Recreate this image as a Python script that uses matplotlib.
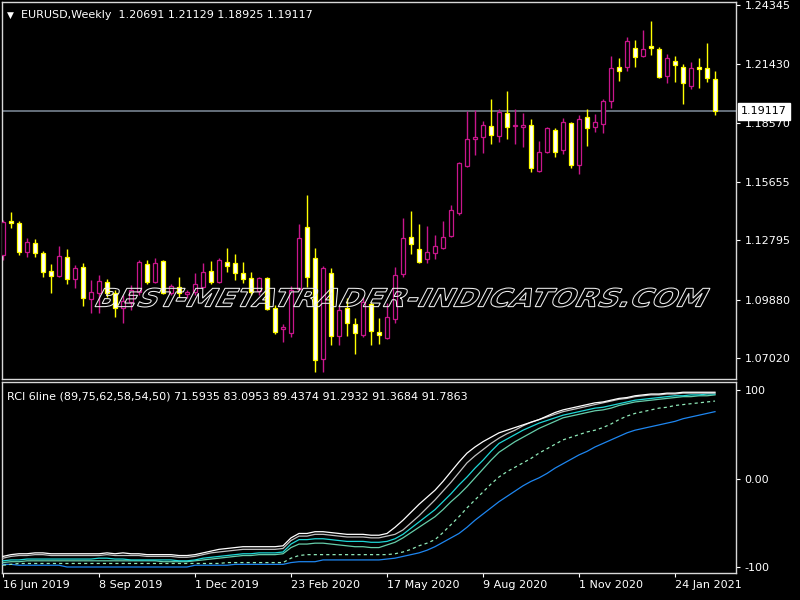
import numpy as np
import pandas as pd
import matplotlib
matplotlib.use("Agg")
import matplotlib.pyplot as plt
from matplotlib.patches import PathPatch
from matplotlib.textpath import TextPath
from matplotlib.font_manager import FontProperties
from matplotlib.transforms import Affine2D, blended_transform_factory

# ---------------- data ----------------
symbol_title = "EURUSD,Weekly  1.20691 1.21129 1.18925 1.19117"
ind_title = "RCI 6line (89,75,62,58,54,50) 71.5935 83.0953 89.4374 91.2932 91.3684 91.7863"
watermark = "BEST-METATRADER-INDICATORS.COM"

weeks = pd.date_range("2019-06-16", periods=90, freq="7D")
date_labels = ["16 Jun 2019", "8 Sep 2019", "1 Dec 2019", "23 Feb 2020",
               "17 May 2020", "9 Aug 2020", "1 Nov 2020", "24 Jan 2021"]
price_ticks = [1.07020, 1.09880, 1.12795, 1.15655, 1.18570, 1.21430, 1.24345]
rci_ticks = [-100, 0, 100]
rci_tick_labels = ["-100", "0.00", "100"]
last_price = 1.19117

opens = [1.1207, 1.1374, 1.1364, 1.1222, 1.1266, 1.1217, 1.1128, 1.1104, 1.1197, 1.1089,
         1.1148, 1.0991, 1.1020, 1.1074, 1.1020, 1.0947, 1.0976, 1.1025, 1.1163, 1.1074,
         1.1178, 1.1020, 1.1050, 1.1016, 1.1025, 1.1050, 1.1128, 1.1074, 1.1173, 1.1168,
         1.1119, 1.1094, 1.1030, 1.1094, 1.0947, 1.0844, 1.0824, 1.1040, 1.1344, 1.1192,
         1.0696, 1.1119, 1.0809, 1.0947, 1.0868, 1.0814, 1.0966, 1.0829, 1.0799, 1.0893,
         1.1114, 1.1295, 1.1236, 1.1187, 1.1217, 1.1241, 1.1300, 1.1413, 1.1644, 1.1777,
         1.1786, 1.1840, 1.1791, 1.1904, 1.1840, 1.1835, 1.1845, 1.1619, 1.1713, 1.1821,
         1.1723, 1.1855, 1.1649, 1.1885, 1.1835, 1.1850, 1.1963, 1.2130, 1.2130, 1.2223,
         1.2184, 1.2233, 1.2218, 1.2086, 1.2160, 1.2130, 1.2037, 1.2130, 1.2125, 1.20691]
highs = [1.1379, 1.1418, 1.1374, 1.1290, 1.1286, 1.1227, 1.1163, 1.1251, 1.1236, 1.1158,
         1.1168, 1.1084, 1.1109, 1.1089, 1.1035, 1.1011, 1.1060, 1.1182, 1.1182, 1.1192,
         1.1182, 1.1065, 1.1099, 1.1035, 1.1119, 1.1168, 1.1178, 1.1192, 1.1241, 1.1212,
         1.1173, 1.1124, 1.1099, 1.1099, 1.0961, 1.0868, 1.1055, 1.1359, 1.1502, 1.1241,
         1.1153, 1.1143, 1.0957, 1.0996, 1.0898, 1.1001, 1.0976, 1.0898, 1.0971, 1.1148,
         1.1389, 1.1423, 1.1359, 1.1349, 1.1305, 1.1374, 1.1452, 1.1665, 1.1914, 1.1919,
         1.1865, 1.1973, 1.1924, 1.2012, 1.1924, 1.1904, 1.1875, 1.1767, 1.1835, 1.1830,
         1.1880, 1.1860, 1.1894, 1.1924, 1.1899, 1.1973, 1.2184, 1.2174, 1.2277, 1.2263,
         1.2312, 1.2356, 1.2228, 1.2194, 1.2184, 1.2145, 1.2155, 1.2174, 1.2248, 1.21129]
lows = [1.1182, 1.1340, 1.1207, 1.1197, 1.1197, 1.1099, 1.1020, 1.1099, 1.1065, 1.1045,
        1.0957, 1.0922, 1.0922, 1.1001, 1.0903, 1.0873, 1.0937, 1.1011, 1.1065, 1.1070,
        1.1016, 1.1011, 1.1001, 1.0996, 1.1011, 1.1045, 1.1065, 1.1070, 1.1124, 1.1084,
        1.1070, 1.1011, 1.1011, 1.0937, 1.0819, 1.0780, 1.0804, 1.1035, 1.1050, 1.0633,
        1.0633, 1.0765, 1.0765, 1.0809, 1.0721, 1.0804, 1.0765, 1.0770, 1.0795, 1.0873,
        1.1099, 1.1212, 1.1168, 1.1168, 1.1187, 1.1236, 1.1295, 1.1403, 1.1639, 1.1698,
        1.1708, 1.1752, 1.1762, 1.1777, 1.1752, 1.1737, 1.1615, 1.1615, 1.1708, 1.1688,
        1.1703, 1.1634, 1.1605, 1.1742, 1.1811, 1.1806, 1.1929, 1.2061, 1.2110, 1.2130,
        1.2179, 1.2189, 1.2076, 1.2051, 1.2056, 1.1948, 1.2022, 1.2027, 1.2056, 1.18925]
closes = [1.1369, 1.1364, 1.1222, 1.1271, 1.1217, 1.1124, 1.1104, 1.1202, 1.1089, 1.1143,
          1.0996, 1.1025, 1.1079, 1.1020, 1.0947, 1.0981, 1.1035, 1.1173, 1.1074, 1.1168,
          1.1020, 1.1055, 1.1020, 1.1025, 1.1065, 1.1124, 1.1074, 1.1182, 1.1153, 1.1119,
          1.1089, 1.1025, 1.1094, 1.0942, 1.0829, 1.0853, 1.1035, 1.1290, 1.1099, 1.0691,
          1.1143, 1.0809, 1.0937, 1.0873, 1.0824, 1.0976, 1.0834, 1.0814, 1.0903, 1.1109,
          1.1290, 1.1261, 1.1173, 1.1222, 1.1251, 1.1295, 1.1428, 1.1659, 1.1777, 1.1786,
          1.1845, 1.1796, 1.1909, 1.1835, 1.1845, 1.1845, 1.1634, 1.1713, 1.1830, 1.1713,
          1.1860, 1.1649, 1.1875, 1.1830, 1.1860, 1.1963, 1.2125, 1.2110, 1.2258, 1.2179,
          1.2218, 1.2223, 1.2081, 1.2174, 1.2140, 1.2051, 1.2125, 1.2120, 1.2076, 1.19117]

rci50 = [-88, -86, -85, -85, -84, -84, -85, -85, -85, -85, -85, -85, -85, -84, -85, -84, -85, -85, -86, -86, -86, -86, -87, -87,
         -86, -84, -82, -80, -79, -78, -77, -77, -77, -77, -77, -76,
         -67, -62, -62, -60, -60, -61, -62, -63, -63, -63, -64, -64,
         -62, -55, -47, -38, -29, -21, -13, -3, 8, 19, 29, 36, 42, 47, 52, 55, 58, 61, 64, 67,
         71, 75, 78, 80, 82, 84, 86, 87, 89, 91, 92, 94, 95, 96, 96, 97, 97, 98, 98, 98, 98, 98]
rci54 = [-90, -88, -87, -87, -86, -86, -87, -87, -87, -87, -87, -87, -87, -86, -87, -87, -87, -87, -88, -88, -88, -88, -89, -89,
         -88, -86, -84, -83, -82, -81, -80, -80, -80, -80, -80, -79,
         -70, -65, -65, -63, -63, -64, -65, -66, -66, -66, -67, -67,
         -65, -63, -58, -50, -42, -33, -24, -14, -4, 7, 18, 26, 33, 40, 46, 51, 55, 60, 64, 67,
         70, 73, 76, 78, 80, 82, 84, 86, 88, 90, 91, 93, 94, 95, 95, 96, 96, 97, 97, 97, 97, 97]
rci58 = [-93, -92, -92, -91, -91, -91, -91, -91, -91, -91, -91, -91, -90, -90, -91, -91, -92, -92, -92, -92, -92, -92, -93, -93,
         -92, -90, -89, -88, -87, -86, -85, -85, -84, -84, -84, -83,
         -74, -69, -69, -68, -68, -69, -70, -71, -71, -71, -72, -72,
         -71, -68, -63, -56, -49, -42, -35, -26, -17, -7, 2, 12, 21, 31, 40, 45, 50, 55, 59, 63,
         66, 69, 72, 74, 76, 78, 80, 81, 83, 85, 87, 89, 90, 91, 92, 93, 94, 94, 95, 95, 96, 96]
rci62 = [-95, -94, -94, -93, -93, -93, -93, -93, -93, -93, -93, -93, -93, -93, -93, -93, -93, -93, -93, -93, -94, -94, -94, -94,
         -93, -92, -91, -90, -89, -88, -87, -87, -86, -86, -86, -85,
         -78, -74, -74, -73, -73, -74, -75, -76, -77, -77, -78, -78,
         -75, -72, -67, -61, -55, -49, -43, -35, -26, -18, -9, 1, 11, 21, 30, 36, 42, 47, 52, 57,
         61, 65, 69, 71, 73, 75, 77, 78, 80, 83, 85, 87, 88, 89, 90, 91, 92, 93, 93, 94, 94, 95]
rci75 = [-98, -97, -96, -96, -96, -96, -96, -96, -96, -96, -96, -96, -96, -96, -96, -96, -96, -96, -96, -96, -96, -96, -96, -96,
         -96, -96, -96, -96, -95, -95, -95, -95, -95, -95, -95, -95,
         -90, -87, -86, -86, -86, -86, -86, -86, -86, -86, -86, -86,
         -86, -85, -83, -80, -76, -73, -69, -61, -52, -43, -33, -24, -15, -6, 2, 8, 13, 18, 23, 29,
         34, 39, 44, 47, 50, 53, 55, 58, 62, 67, 71, 74, 76, 78, 80, 81, 83, 84, 85, 86, 87, 88]
rci89 = [-97, -97, -98, -98, -98, -98, -98, -98, -100, -100, -100, -100, -100, -100, -100, -100, -100, -100, -100, -100, -100, -100, -100, -100,
         -98, -98, -98, -98, -98, -97, -97, -97, -97, -97, -97, -97,
         -95, -94, -94, -94, -92, -92, -92, -92, -92, -92, -92, -92,
         -91, -90, -88, -86, -84, -81, -77, -72, -67, -62, -55, -47, -40, -33, -26, -20, -14, -8, -3, 1,
         6, 12, 17, 22, 27, 31, 36, 40, 44, 48, 52, 55, 57, 59, 61, 63, 65, 68, 70, 72, 74, 76]

# ---------------- figure ----------------
plt.rcParams["font.family"] = ["DejaVu Sans"]
fig = plt.figure(figsize=(8, 6), dpi=100, facecolor="black")
W, H = 800, 600

def fig_rect(x0, y0, x1, y1):
    return [x0 / W, 1 - y1 / H, (x1 - x0) / W, (y1 - y0) / H]

ax = fig.add_axes(fig_rect(2, 2, 736, 379), facecolor="black")
ax2 = fig.add_axes(fig_rect(2, 382, 736, 573), facecolor="black")

BULL = "#C8168C"
BEAR_EDGE = "#FFFF00"
frame_col = "#D8D8D8"

x = np.arange(len(opens))
o = np.array(opens); h = np.array(highs); l = np.array(lows); c = np.array(closes)
bull = c >= o
wick_cols = np.where(bull, BULL, BEAR_EDGE)
ax.vlines(x, l, h, colors=wick_cols, lw=1.0, zorder=2)
body_bottom = np.minimum(o, c)
body_h = np.maximum(np.abs(c - o), 0.00008)
ax.bar(x[bull], body_h[bull], bottom=body_bottom[bull], width=0.55,
       facecolor="black", edgecolor=BULL, linewidth=0.9, zorder=3)
ax.bar(x[~bull], body_h[~bull], bottom=body_bottom[~bull], width=0.55,
       facecolor="white", edgecolor=BEAR_EDGE, linewidth=0.9, zorder=3)

ax.axhline(last_price, color="#76828F", lw=1.2, zorder=1)

ax.set_xlim(-0.125, 91.625)
ax.set_ylim(1.05985, 1.24492)
ax.yaxis.tick_right()
ax.set_yticks(price_ticks)
ax.set_yticklabels([f"{t:.5f}" for t in price_ticks])
ax.tick_params(axis="y", colors="white", labelsize=8, length=3, width=0.8, pad=3)
ax.set_xticks([])
for s in ax.spines.values():
    s.set_color(frame_col)
    s.set_linewidth(1.0)

ax.text((7 - 2) / 734, 1 - 13 / 377, "\u25BC", transform=ax.transAxes, color="white",
        fontsize=6.5, va="center", ha="left")
ax.text((21 - 2) / 734, 1 - 13 / 377, symbol_title, transform=ax.transAxes, color="white",
        fontsize=8, va="center", ha="left")

trans = blended_transform_factory(ax.transAxes, ax.transData)
ax.text(1 + 5 / 734, last_price, f"{last_price:.5f}", transform=trans, color="black",
        fontsize=8, va="center", ha="left", zorder=10, clip_on=False,
        bbox=dict(boxstyle="square,pad=0.3", facecolor="white", edgecolor="white"))

# ---------------- indicator ----------------
series = [
    (rci89, "#1E86F0", "-"),
    (rci75, "#8FE8B8", (0, (2.5, 2.5))),
    (rci62, "#66CDAA", "-"),
    (rci58, "#1ED6D6", "-"),
    (rci54, "#C0C0C0", "-"),
    (rci50, "#FFFFFF", "-"),
]
for vals, col, ls in series:
    ax2.plot(x, vals, color=col, lw=0.9, linestyle=ls, zorder=3)

ax2.set_xlim(-0.125, 91.625)
ax2.set_ylim(-106.8, 109.6)
ax2.yaxis.tick_right()
ax2.set_yticks(rci_ticks)
ax2.set_yticklabels(rci_tick_labels)
ax2.tick_params(axis="y", colors="white", labelsize=8, length=3, width=0.8, pad=3)

tick_idx = [int(np.where(weeks == pd.Timestamp(d))[0][0]) for d in
            pd.to_datetime(date_labels, format="%d %b %Y")]
ax2.set_xticks(tick_idx)
ax2.set_xticklabels(date_labels, ha="left")
ax2.tick_params(axis="x", colors="white", labelsize=8, length=3, width=0.8, pad=2)
for s in ax2.spines.values():
    s.set_color(frame_col)
    s.set_linewidth(1.0)

ax2.text((7 - 2) / 734, 1 - 14.5 / 191, ind_title, transform=ax2.transAxes, color="white",
         fontsize=8, va="center", ha="left")

# ---------------- watermark ----------------
fp = FontProperties(family="DejaVu Sans", weight="bold")
tp = TextPath((0, 0), watermark, size=1, prop=fp)
tp = Affine2D().skew_deg(24, 0).transform_path(tp)
ext = tp.get_extents()
tx0, tx1 = 95, 710
ty_top, ty_bot = 288, 307
sx = (tx1 - tx0) / ext.width
sy = (ty_bot - ty_top) / ext.height
tr = (Affine2D().translate(-ext.x0, -ext.y0).scale(sx, sy)
      .translate(tx0, H - ty_bot).scale(1 / W, 1 / H) + fig.transFigure)
fig.add_artist(PathPatch(tp, transform=tr, facecolor="none", edgecolor="#EEEEEE", lw=0.75, zorder=5))

fig.savefig("out.png", dpi=100, facecolor="black")
